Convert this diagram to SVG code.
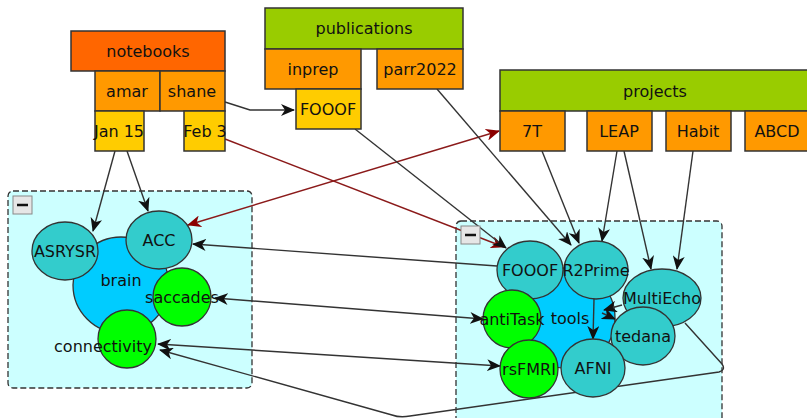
<svg xmlns="http://www.w3.org/2000/svg" width="807" height="418" viewBox="0 0 807 418">
<defs>
<style>
text{font-family:"DejaVu Sans",sans-serif;font-size:16px;fill:#111;text-anchor:middle;dominant-baseline:central}
.box{stroke:#333;stroke-width:1.5}
.hdrO{fill:#ff6600}.hdrG{fill:#99cc00}.org{fill:#ff9900}.yel{fill:#ffcc00}
.grp{fill:#ccffff;stroke:#333;stroke-width:1.3;stroke-dasharray:6,3}
.nd{stroke:#333;stroke-width:1.3}
.teal{fill:#33cccc}.grn{fill:#00ff00}.blu{fill:#00ccff}
.e{fill:none;stroke:#333;stroke-width:1.4}
.r{fill:none;stroke:#8b1a1a;stroke-width:1.4}
.btn{fill:#e6e6e6;stroke:#888;stroke-width:1}
</style>
<marker id="a" viewBox="0 0 14 12" refX="13" refY="6" markerWidth="14" markerHeight="12" markerUnits="userSpaceOnUse" orient="auto-start-reverse"><path d="M0,0 L14,6 L0,12 L4,6 z" fill="#111"/></marker>
<marker id="ar" viewBox="0 0 14 12" refX="13" refY="6" markerWidth="14" markerHeight="12" markerUnits="userSpaceOnUse" orient="auto-start-reverse"><path d="M0,0 L14,6 L0,12 L4,6 z" fill="#8b0000"/></marker>
</defs>

<g id="group-brain">
<rect class="grp" x="8" y="191" width="244" height="197" rx="5"/>
<rect class="btn" x="13" y="196" width="19" height="18"/>
<line x1="17" y1="205" x2="28" y2="205" stroke="#111" stroke-width="2.5"/>
</g>
<g id="group-tools">
<rect class="grp" x="456" y="221" width="266" height="205" rx="5"/>
</g>

<g id="brain"><circle class="nd blu" cx="121" cy="285" r="48"/><text x="121" y="280">brain</text></g>
<g id="tools"><circle class="nd blu" cx="565" cy="318" r="50"/><text x="570" y="318">tools</text></g>

<g id="connectors">
<polyline class="e" points="225,102 250,110 294,110" marker-end="url(#a)"/>
<line class="e" x1="115" y1="151" x2="93" y2="231" marker-end="url(#a)"/>
<line class="e" x1="127" y1="151" x2="148" y2="211" marker-end="url(#a)"/>
<line class="r" x1="225" y1="139" x2="504" y2="247" marker-end="url(#ar)"/>
<line class="r" x1="188" y1="225" x2="499" y2="131" marker-start="url(#ar)" marker-end="url(#ar)"/>
<line class="e" x1="355" y1="129" x2="506" y2="248" marker-end="url(#a)"/>
<line class="e" x1="437" y1="89" x2="571" y2="245" marker-end="url(#a)"/>
<line class="e" x1="542" y1="151" x2="579" y2="243" marker-end="url(#a)"/>
<line class="e" x1="617" y1="151" x2="602" y2="241" marker-end="url(#a)"/>
<line class="e" x1="624" y1="151" x2="651" y2="269" marker-end="url(#a)"/>
<line class="e" x1="693" y1="151" x2="677" y2="269" marker-end="url(#a)"/>
<line class="e" x1="497" y1="266" x2="193" y2="244" marker-end="url(#a)"/>
<line class="e" x1="215" y1="298" x2="483" y2="319" stroke-width="2" marker-start="url(#a)" marker-end="url(#a)"/>
<line class="e" x1="158" y1="344" x2="500" y2="366" stroke-width="2" marker-start="url(#a)" marker-end="url(#a)"/>
<path class="e" d="M685,323 L722,364 Q726,370 719,372 L410,416 Q400,418 392,415 L160,350" marker-end="url(#a)"/>
<line class="e" x1="594" y1="299" x2="593" y2="339" marker-end="url(#a)"/>
<line class="e" x1="622" y1="305" x2="604" y2="310" marker-end="url(#a)"/>
<line class="e" x1="602" y1="313" x2="615" y2="319" marker-end="url(#a)"/>
</g>

<g id="tools-button">
<rect class="btn" x="461" y="226" width="19" height="18"/>
<line x1="465" y1="235" x2="476" y2="235" stroke="#111" stroke-width="2.5"/>
</g>

<g id="notebooks"><rect class="box hdrO" x="71" y="31" width="154" height="40"/><text x="148" y="51">notebooks</text></g>
<g id="amar"><rect class="box org" x="95" y="71" width="65" height="40"/><text x="127" y="91">amar</text></g>
<g id="shane"><rect class="box org" x="160" y="71" width="65" height="40"/><text x="192" y="91">shane</text></g>
<g id="jan15"><rect class="box yel" x="95" y="111" width="49" height="40"/><text x="119" y="131">Jan 15</text></g>
<g id="feb3"><rect class="box yel" x="184" y="111" width="41" height="40"/><text x="205" y="131">Feb 3</text></g>

<g id="publications"><rect class="box hdrG" x="265" y="8" width="198" height="41"/><text x="364" y="28">publications</text></g>
<g id="inprep"><rect class="box org" x="265" y="49" width="96" height="40"/><text x="313" y="69">inprep</text></g>
<g id="parr2022"><rect class="box org" x="377" y="49" width="86" height="40"/><text x="420" y="69">parr2022</text></g>
<g id="fooof-pub"><rect class="box yel" x="296" y="89" width="65" height="40"/><text x="328" y="109">FOOOF</text></g>

<g id="projects"><rect class="box hdrG" x="500" y="70" width="310" height="41"/><text x="655" y="91">projects</text></g>
<g id="p7T"><rect class="box org" x="500" y="111" width="65" height="40"/><text x="532" y="131">7T</text></g>
<g id="LEAP"><rect class="box org" x="587" y="111" width="65" height="40"/><text x="619" y="131">LEAP</text></g>
<g id="Habit"><rect class="box org" x="666" y="111" width="65" height="40"/><text x="698" y="131">Habit</text></g>
<g id="ABCD"><rect class="box org" x="745" y="111" width="65" height="40"/><text x="777" y="131">ABCD</text></g>

<g id="ASRYSR"><ellipse class="nd teal" cx="65" cy="251" rx="33" ry="29"/><text x="65" y="251">ASRYSR</text></g>
<g id="ACC"><ellipse class="nd teal" cx="159" cy="240" rx="33" ry="29"/><text x="159" y="240">ACC</text></g>
<g id="saccades"><circle class="nd grn" cx="182" cy="297" r="29"/><text x="182" y="297">saccades</text></g>
<g id="connectivity"><circle class="nd grn" cx="127" cy="339" r="29"/><text x="103" y="346">connectivity</text></g>

<g id="FOOOF"><ellipse class="nd teal" cx="530" cy="270" rx="33" ry="29"/><text x="530" y="270">FOOOF</text></g>
<g id="R2Prime"><ellipse class="nd teal" cx="596" cy="270" rx="32" ry="29"/><text x="596" y="270">R2Prime</text></g>
<g id="MultiEcho"><ellipse class="nd teal" cx="662" cy="298" rx="39" ry="29"/><text x="662" y="298">MultiEcho</text></g>
<g id="tedana"><ellipse class="nd teal" cx="643" cy="336" rx="32" ry="29"/><text x="643" y="336">tedana</text></g>
<g id="AFNI"><ellipse class="nd teal" cx="593" cy="368" rx="32" ry="29"/><text x="593" y="368">AFNI</text></g>
<g id="antiTask"><circle class="nd grn" cx="512" cy="319" r="29"/><text x="512" y="319">antiTask</text></g>
<g id="rsFMRI"><circle class="nd grn" cx="529" cy="369" r="29"/><text x="529" y="369">rsFMRI</text></g>
</svg>
